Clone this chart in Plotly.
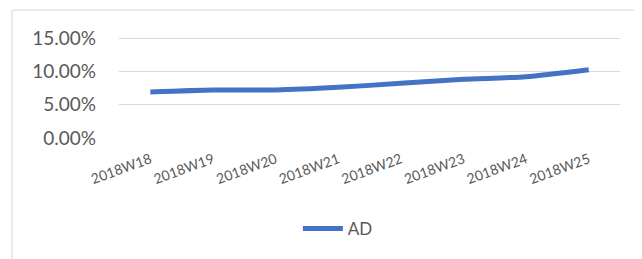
import plotly.graph_objects as go

weeks = ["2018W18", "2018W19", "2018W20", "2018W21", "2018W22", "2018W23", "2018W24", "2018W25"]
ad_values = [0.069, 0.072, 0.072, 0.076, 0.082, 0.088, 0.092, 0.1025]
y_ticks = [0, 0.05, 0.10, 0.15]

fig = go.Figure()
fig.add_trace(go.Scatter(
    x=weeks, y=ad_values, name="AD", mode="lines",
    line=dict(color="#4472C4", width=5, shape="spline", smoothing=0.6),
))

fig.update_layout(
    width=642, height=259,
    margin=dict(l=111, r=30, t=26, b=129),
    paper_bgcolor="white", plot_bgcolor="white",
    font=dict(family="Lato, Carlito, sans-serif", color="#595959"),
    showlegend=True,
    legend=dict(orientation="h", x=0.357, xanchor="left", y=-0.875, yanchor="middle",
                font=dict(size=17, color="#595959"), itemwidth=40),
    xaxis=dict(type="category", tickangle=-20, tickfont=dict(size=14, color="#595959"),
               showgrid=False, showline=False, ticks="", range=[-0.5, 7.5],
               ticklabelstandoff=10),
    yaxis=dict(range=[0, 0.156], tickvals=y_ticks, tickformat=".2%",
               tickfont=dict(size=19, color="#595959"),
               showgrid=True, gridcolor="#d9d9d9", gridwidth=1.3,
               zeroline=False, showline=False, ticks="", ticklabelstandoff=22),
    shapes=[dict(type="rect", xref="paper", yref="paper",
                 x0=-0.2136, x1=1.2, y0=-1.5, y1=1.23,
                 line=dict(color="#d9d9d9", width=1), fillcolor="rgba(0,0,0,0)")],
)

fig.write_html("out.html")
